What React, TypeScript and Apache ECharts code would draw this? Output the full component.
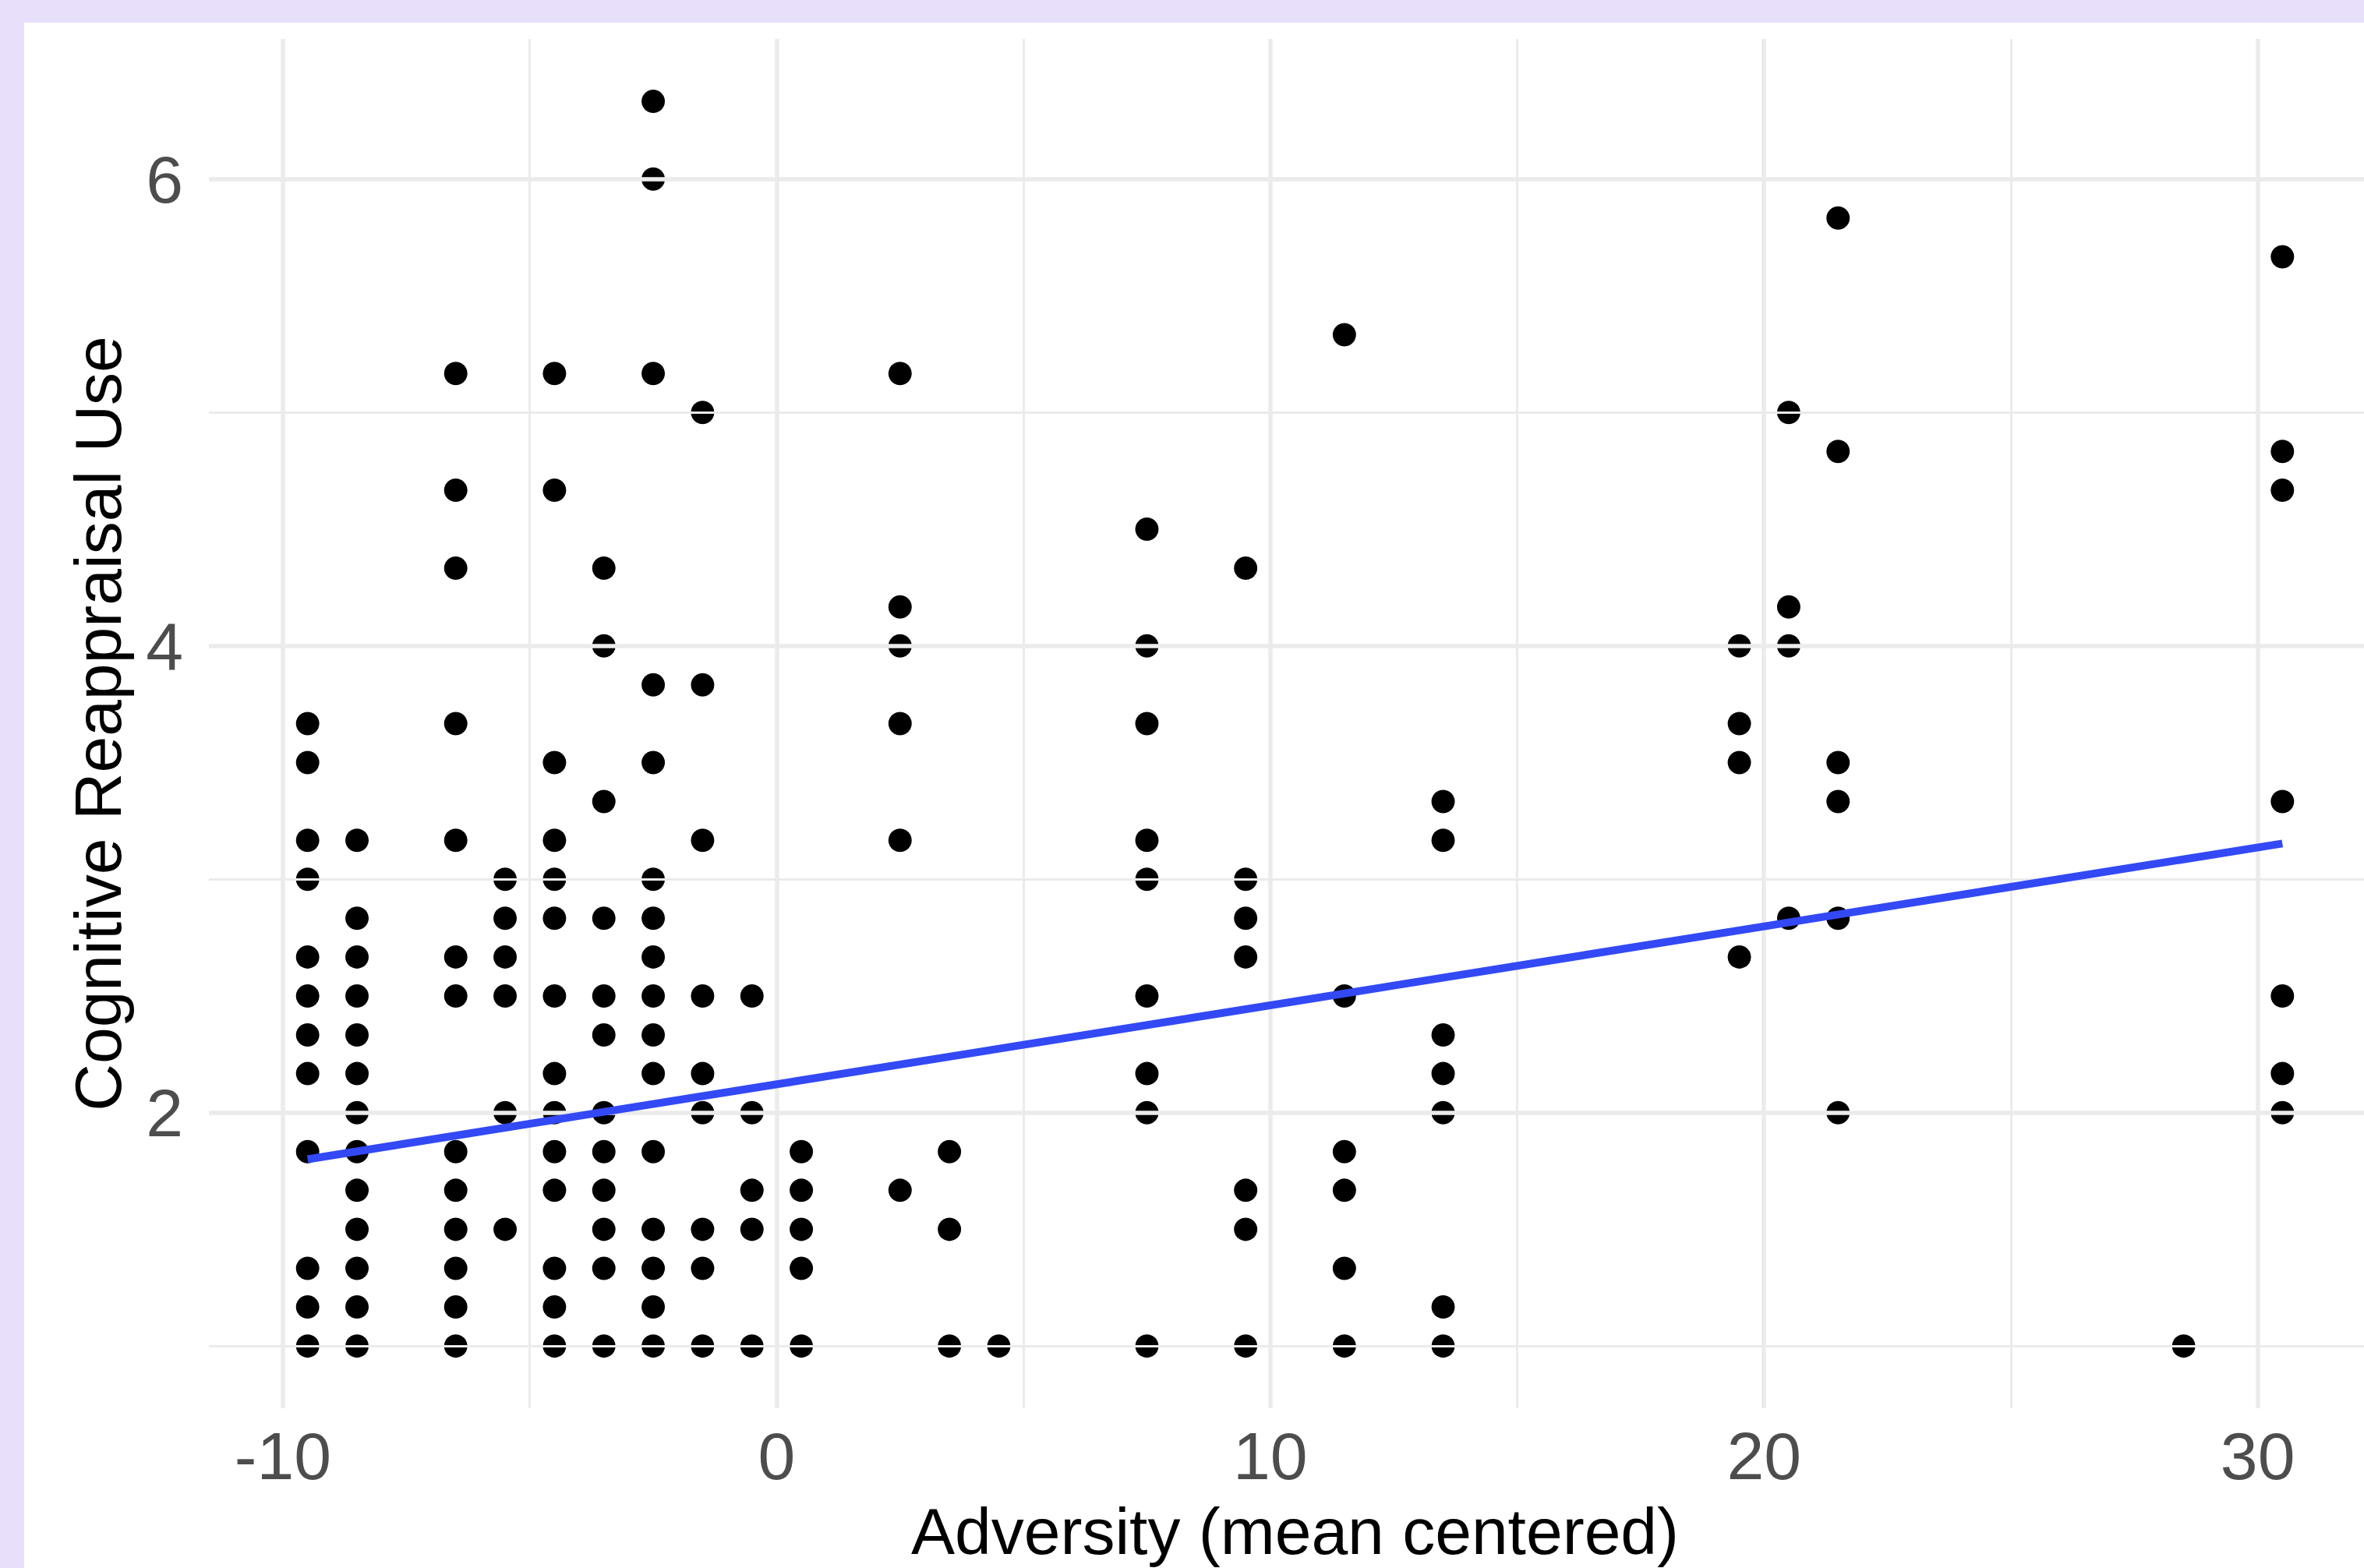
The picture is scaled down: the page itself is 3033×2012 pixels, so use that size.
import React, { useEffect, useRef } from "react";
import * as echarts from "echarts";

// Adversity (mean centered) values, one per column of points
const xColumns = [-9.5, -8.5, -6.5, -5.5, -4.5, -3.5, -2.5, -1.5, -0.5, 0.5, 2.5, 3.5, 4.5, 7.5, 9.5, 11.5, 13.5, 19.5, 20.5, 21.5, 28.5, 30.5];

// Cognitive Reappraisal Use values found in each column
const yByColumn = [
  [3.667, 3.5, 3.167, 3.0, 2.667, 2.5, 2.333, 2.167, 1.833, 1.333, 1.167, 1.0],
  [3.167, 2.833, 2.667, 2.5, 2.333, 2.167, 2.0, 1.833, 1.667, 1.5, 1.333, 1.167, 1.0],
  [5.167, 4.667, 4.333, 3.667, 3.167, 2.667, 2.5, 1.833, 1.667, 1.5, 1.333, 1.167, 1.0],
  [3.0, 2.833, 2.667, 2.5, 2.0, 1.5],
  [5.167, 4.667, 3.5, 3.167, 3.0, 2.833, 2.5, 2.167, 2.0, 1.833, 1.667, 1.333, 1.167, 1.0],
  [4.333, 4.0, 3.333, 2.833, 2.5, 2.333, 2.0, 1.833, 1.667, 1.5, 1.333, 1.0],
  [6.333, 6.0, 5.167, 3.833, 3.5, 3.0, 2.833, 2.667, 2.5, 2.333, 2.167, 1.833, 1.5, 1.333, 1.167, 1.0],
  [5.0, 3.833, 3.167, 2.5, 2.167, 2.0, 1.5, 1.333, 1.0],
  [2.5, 2.0, 1.667, 1.5, 1.0],
  [1.833, 1.667, 1.5, 1.333, 1.0],
  [5.167, 4.167, 4.0, 3.667, 3.167, 1.667],
  [1.833, 1.5, 1.0],
  [1.0],
  [4.5, 4.0, 3.667, 3.167, 3.0, 2.5, 2.167, 2.0, 1.0],
  [4.333, 3.0, 2.833, 2.667, 1.667, 1.5, 1.0],
  [5.333, 2.5, 1.833, 1.667, 1.333, 1.0],
  [3.333, 3.167, 2.333, 2.167, 2.0, 1.167, 1.0],
  [4.0, 3.667, 3.5, 2.667],
  [5.0, 4.167, 4.0, 2.833],
  [5.833, 4.833, 3.5, 3.333, 2.833, 2.0],
  [1.0],
  [5.667, 4.833, 4.667, 3.333, 2.5, 2.167, 2.0],
];

// Fitted regression line end points
const fitX = [-9.5, 30.5];
const fitY = [1.8, 3.153];

// Axis breaks
const xMajor = [-10, 0, 10, 20, 30];
const xMinor = [-5, 5, 15, 25];
const yMajor = [2, 4, 6];
const yMinor = [1, 3, 5];

const xTitle = "Adversity (mean centered)";
const yTitle = "Cognitive Reappraisal Use";

export default function App() {
  const ref = useRef<HTMLDivElement>(null);

  useEffect(() => {
    if (!ref.current) return;
    const chart = echarts.init(ref.current, undefined, { renderer: "svg" });

    const points: number[][] = [];
    xColumns.forEach((x, i) => {
      yByColumn[i].forEach((y) => points.push([x, y]));
    });
    const fitLine = fitX.map((x, i) => [x, fitY[i]]);

    const gridColor = "#EBEBEB";
    const markData: any[] = [
      ...xMajor.map((v) => ({ xAxis: v, lineStyle: { width: 5.5 } })),
      ...xMinor.map((v) => ({ xAxis: v, lineStyle: { width: 3 } })),
      ...yMajor.map((v) => ({ yAxis: v, lineStyle: { width: 5.5 } })),
      ...yMinor.map((v) => ({ yAxis: v, lineStyle: { width: 3 } })),
    ];

    const font = "Liberation Sans";

    chart.setOption({
      animation: false,
      backgroundColor: "#FFFFFF",
      grid: { left: 237, right: 0, top: 21, bottom: 202 },
      xAxis: {
        type: "value",
        min: -11.5,
        max: 32.5,
        axisLine: { show: false },
        axisTick: { show: false },
        splitLine: { show: false },
        axisLabel: {
          customValues: xMajor,
          color: "#4D4D4D",
          fontSize: 86,
          fontFamily: font,
          margin: 18,
        },
        name: xTitle,
        nameLocation: "middle",
        nameGap: 116,
        nameTextStyle: { color: "#000000", fontSize: 84, fontFamily: font },
      },
      yAxis: {
        type: "value",
        min: 0.7333,
        max: 6.6,
        axisLine: { show: false },
        axisTick: { show: false },
        splitLine: { show: false },
        axisLabel: {
          customValues: yMajor,
          color: "#4D4D4D",
          fontSize: 86,
          fontFamily: font,
          margin: 33,
        },
        name: yTitle,
        nameLocation: "middle",
        nameRotate: 90,
        nameGap: 100,
        nameTextStyle: { color: "#000000", fontSize: 84, fontFamily: font },
      },
      series: [
        {
          type: "scatter",
          data: [],
          z: 1,
          silent: true,
          markLine: {
            silent: true,
            symbol: ["none", "none"],
            label: { show: false },
            lineStyle: { color: gridColor, type: "solid" },
            emphasis: { disabled: true },
            data: markData,
          },
        },
        {
          type: "scatter",
          data: points,
          symbol: "circle",
          symbolSize: 30,
          itemStyle: { color: "#000000", opacity: 1 },
          z: 3,
          silent: true,
        },
        {
          type: "line",
          data: fitLine,
          symbol: "none",
          lineStyle: { color: "#3349F5", width: 10, opacity: 1, cap: "butt" },
          z: 5,
          silent: true,
        },
      ],
    });

    return () => chart.dispose();
  }, []);

  return (
    <div
      style={{
        position: "fixed",
        left: 0,
        top: 0,
        width: 3033,
        height: 2012,
        background: "#E8E0FB",
        overflow: "hidden",
      }}
    >
      <div
        ref={ref}
        style={{ position: "absolute", left: 31, top: 29, width: 3024, height: 1983 }}
      />
    </div>
  );
}
